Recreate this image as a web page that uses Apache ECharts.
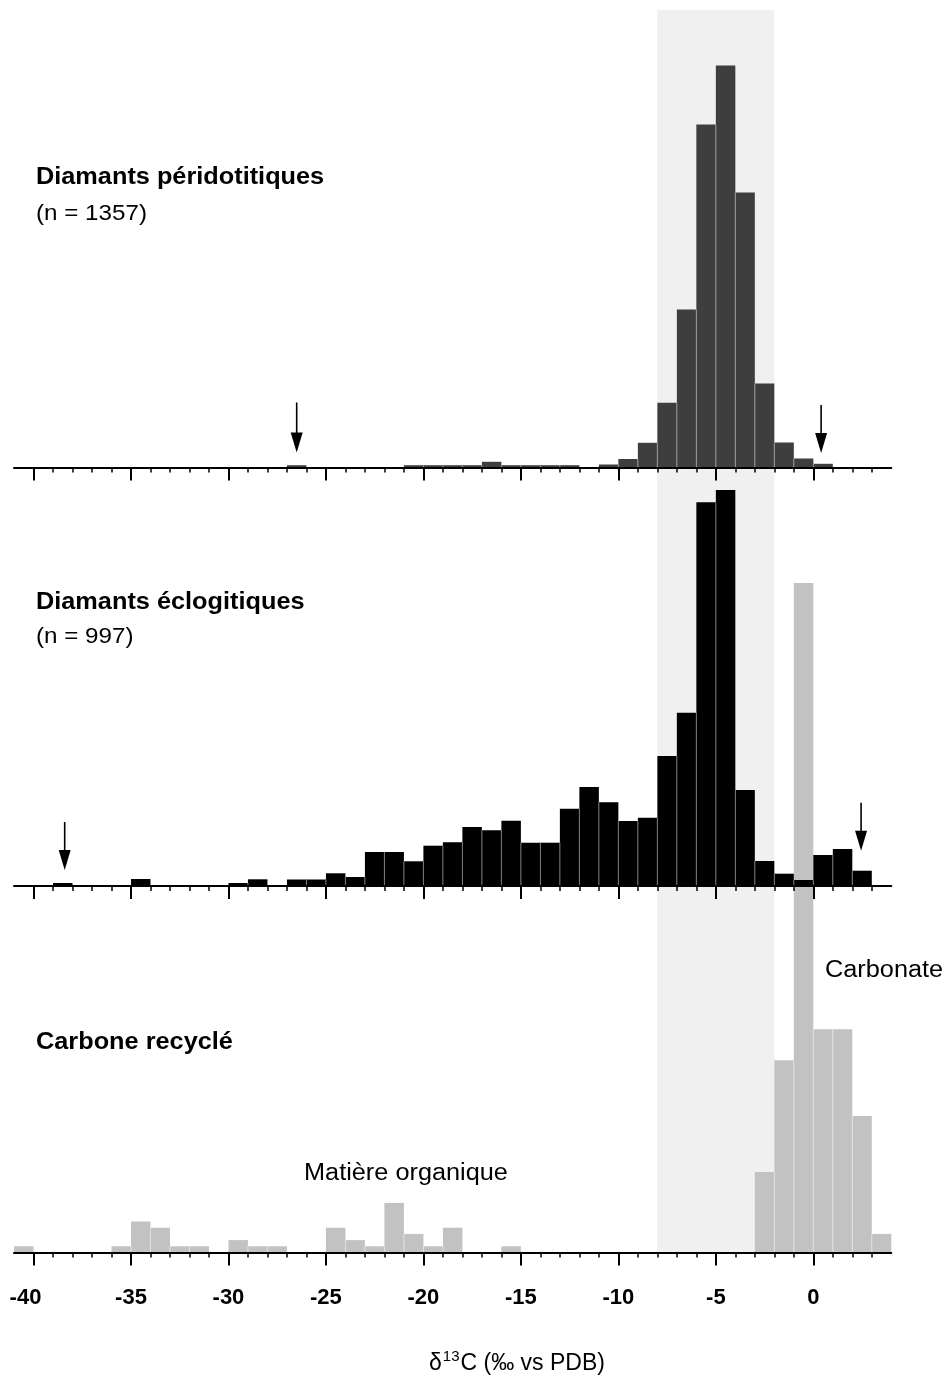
<!DOCTYPE html>
<html><head><meta charset="utf-8">
<script src="https://cdn.jsdelivr.net/npm/echarts@6/dist/echarts.min.js"></script>
<style>html,body{margin:0;padding:0;background:#fff}#c{width:946px;height:1384px}</style>
</head><body><div id="c"></div>
<script>
// Bin left edges (δ13C, ‰), each bin 1‰ wide
const binLeft = [-41,-40,-39,-38,-37, -36,-35,-34,-33,-32, -31,-30,-29,-28,-27, -26,-25,-24,-23,-22,
                 -21,-20,-19,-18,-17, -16,-15,-14,-13,-12, -11,-10,-9,-8,-7, -6,-5,-4,-3,-2, -1,0,1,2,3];
// Relative frequencies
const peridotitic = [0,0,0,0,0, 0,0,0,0,0, 0,0,0,0,2.3, 0,0,0,0,0,
                     2.3,2.3,2.3,2.3,5.7, 2.3,2.3,2.3,2.3,0, 3,8.5,24.7,64.7,158, 343,402,275,84,25, 9,3.7,0,0,0];
const eclogitic = [0,0,3,0,0, 0,7,0,0,0, 0,3,6.7,0,6.5, 6.5,12.7,9,34,34,
                   24.7,40.3,43.7,59,55.7, 65.3,43.3,43.3,77.3,99, 83.7,65,68.3,130,173.3, 383.7,396,96,25,12.3, 6,31,37,15.3,0];
const recycled = [1,0,0,0,0, 1,5,4,1,1, 0,2,1,1,0, 0,4,2,1,8,
                  3,1,4,0,0, 1,0,0,0,0, 0,0,0,0,0, 0,0,0,13,31, 108,36,36,22,3];
const majorTicks = [-40,-35,-30,-25,-20,-15,-10,-5,0];
const minorTicks = [-40,-39,-38,-37,-36,-35,-34,-33,-32,-31,-30,-29,-28,-27,-26,-25,-24,-23,-22,-21,
                    -20,-19,-18,-17,-16,-15,-14,-13,-12,-11,-10,-9,-8,-7,-6,-5,-4,-3,-2,-1,0,1,2,3];
const mantleRange = [-8, -2];
// arrows: [x, y start, y tip]
const peridotiticArrows = [[-26.5, 65, 15], [0.4, 62.5, 14.5]];
const eclogiticArrows = [[-38.4, 64, 16], [2.45, 83.3, 35.3]];

const X_MIN = -41, X_MAX = 4;
const FONT = '"Liberation Sans", Arial, Helvetica, sans-serif';
const chart = echarts.init(document.getElementById('c'), null, {renderer: 'canvas'});

function histSeries(values, k, fill, sep, z) {
  const data = [];
  binLeft.forEach((b, i) => {
    if (values[i] > 0) data.push([b, b + 1, values[i], i > 0 ? values[i - 1] : 0]);
  });
  return {
    type: 'custom', xAxisIndex: 2 * k, yAxisIndex: k, z: z, clip: false, silent: true,
    encode: {x: [0, 1], y: 2}, data: data,
    renderItem: function (params, api) {
      const x0 = api.value(0), x1 = api.value(1), v = api.value(2), pv = api.value(3);
      const pA = api.coord([x0, 0]), pB = api.coord([x1, v]);
      const children = [{type: 'rect', shape: {x: pA[0], y: pB[1], width: pB[0] - pA[0], height: pA[1] - pB[1]}, style: {fill: fill}}];
      if (pv > 0) {
        const pS = api.coord([x0, Math.min(v, pv)]);
        children.push({type: 'line', shape: {x1: pA[0], y1: pA[1], x2: pA[0], y2: pS[1]}, style: {stroke: sep, lineWidth: 1}});
      }
      return {type: 'group', children: children};
    }
  };
}
function arrowSeries(arrows, k) {
  return {
    type: 'custom', xAxisIndex: 2 * k, yAxisIndex: k, z: 6, clip: false, silent: true,
    encode: {x: 0, y: [1, 2]}, data: arrows,
    renderItem: function (params, api) {
      const p0 = api.coord([api.value(0), api.value(1)]);
      const p1 = api.coord([api.value(0), api.value(2)]);
      const hl = 20, hw = 6;
      return {type: 'group', children: [
        {type: 'line', shape: {x1: p0[0], y1: p0[1], x2: p1[0], y2: p1[1] - hl + 2}, style: {stroke: '#000', lineWidth: 1.6}},
        {type: 'polygon', shape: {points: [[p1[0] - hw, p1[1] - hl], [p1[0] + hw, p1[1] - hl], [p1[0], p1[1]]]}, style: {fill: '#000'}}
      ]};
    }
  };
}
function xAxes(k, withLabels) {
  return [{
    type: 'value', gridIndex: k, min: X_MIN, max: X_MAX, position: 'bottom', z: 5,
    axisLine: {show: true, onZero: false, lineStyle: {color: '#000', width: 2}},
    axisTick: {show: true, customValues: majorTicks, length: 13, lineStyle: {color: '#000', width: 2}},
    axisLabel: withLabels ? {
      show: true, customValues: majorTicks, margin: 34,
      formatter: function (v) { return v === -40 ? '{l|' + v + '}' : '{n|' + v + '}'; },
      rich: {
        n: {fontFamily: FONT, fontWeight: 'bold', fontSize: 22, color: '#000'},
        l: {fontFamily: FONT, fontWeight: 'bold', fontSize: 22, color: '#000', padding: [0, 16, 0, 0]}
      }
    } : {show: false},
    splitLine: {show: false}
  }, {
    type: 'value', gridIndex: k, min: X_MIN, max: X_MAX, position: 'bottom', z: 5,
    axisLine: {show: false},
    axisTick: {show: true, customValues: minorTicks, length: 5, lineStyle: {color: '#000', width: 1.5}},
    axisLabel: {show: false}, splitLine: {show: false}
  }];
}
function yAx(k, max) {
  return {type: 'value', gridIndex: k, min: 0, max: max, show: false, splitLine: {show: false}};
}
function txt(x, y, s, size, bold, align) {
  return {type: 'text', x: x, y: y, scaleX: 1.1, z: 10,
    style: {text: s, x: 0, y: 0, fill: '#000', font: (bold ? 'bold ' : '') + size + 'px ' + FONT,
      textAlign: align || 'left', textVerticalAlign: 'middle'}};
}

const option = {
  animation: false,
  backgroundColor: '#fff',
  grid: [
    {left: 14, right: 54.7, top: 10, height: 457.5},
    {left: 14, right: 54.7, top: 467.5, height: 418.5},
    {left: 14, right: 54.7, top: 10, height: 1242.5}
  ],
  xAxis: [].concat(xAxes(0, false), xAxes(1, false), xAxes(2, true)),
  yAxis: [yAx(0, 457.5), yAx(1, 418.5), yAx(2, 1242.5 / 6.2)],
  series: [
    {
      type: 'custom', xAxisIndex: 4, yAxisIndex: 2, z: 0, silent: true, clip: false,
      encode: {x: [0, 1]}, data: [mantleRange],
      renderItem: function (params, api) {
        const cs = params.coordSys;
        const a = api.coord([api.value(0), 0]), b = api.coord([api.value(1), 0]);
        return {type: 'rect', shape: {x: a[0], y: cs.y, width: b[0] - a[0], height: cs.height}, style: {fill: '#f0f0f0'}};
      }
    },
    histSeries(recycled, 2, '#c2c2c2', '#e2e2e2', 1),
    histSeries(peridotitic, 0, '#3e3e3e', '#9a9a9a', 3),
    histSeries(eclogitic, 1, '#000000', '#7a7a7a', 3),
    arrowSeries(peridotiticArrows, 0),
    arrowSeries(eclogiticArrows, 1)
  ],
  graphic: [
    txt(36, 178, 'Diamants péridotitiques', 23, true),
    txt(36, 214, '(n = 1357)', 22, false),
    txt(36, 603, 'Diamants éclogitiques', 23, true),
    txt(36, 637, '(n = 997)', 22, false),
    txt(36, 1043, 'Carbone recyclé', 23, true),
    txt(304, 1173.5, 'Matière organique', 23, false),
    txt(825, 971, 'Carbonate', 23, false),
    {type: 'text', x: 517, y: 1364, z: 10,
      style: {text: '{a|δ}{s|13}{a|C (‰ vs PDB)}', x: 0, y: 0, textAlign: 'center', textVerticalAlign: 'middle',
        rich: {
          a: {fontFamily: FONT, fontSize: 23, color: '#000', lineHeight: 30},
          s: {fontFamily: FONT, fontSize: 15, color: '#000', verticalAlign: 'top', lineHeight: 30, padding: [0, 1, 0, 1]}
        }}}
  ]
};
chart.setOption(option);
</script></body></html>
